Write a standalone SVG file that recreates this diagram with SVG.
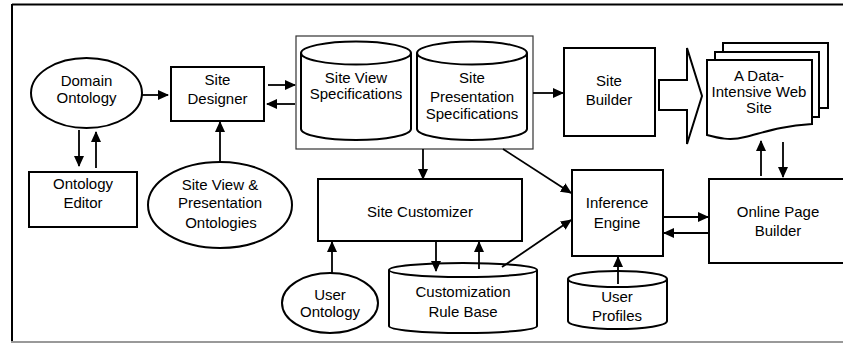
<svg xmlns="http://www.w3.org/2000/svg" width="843" height="343" viewBox="0 0 843 343">
<style>
.s{fill:#fff;stroke:#000;stroke-width:2}
.t{font-family:"Liberation Sans",Arial,sans-serif;font-size:15px;fill:#000;text-anchor:middle}
.c{fill:none;stroke:#000;stroke-width:1.8}
</style>
<defs>
<marker id="a" markerUnits="userSpaceOnUse" markerWidth="12" markerHeight="10" refX="10" refY="5" orient="auto">
<path d="M0,0 L11,5 L0,10 z" fill="#000"/>
</marker>
</defs>
<rect x="0" y="0" width="843" height="343" fill="#fff"/>
<line x1="12" y1="4.5" x2="843" y2="4.5" stroke="#000" stroke-width="2"/>
<line x1="12" y1="4" x2="12" y2="342" stroke="#000" stroke-width="2"/>
<line x1="11" y1="342" x2="843" y2="342" stroke="#999" stroke-width="2"/>

<g id="domain-ontology">
<ellipse class="s" cx="86.5" cy="93" rx="55.5" ry="35"/>
<text class="t" x="86.5" y="86">Domain</text>
<text class="t" x="86.5" y="103">Ontology</text>
</g>
<g id="ontology-editor">
<rect class="s" x="29" y="172" width="108" height="55"/>
<text class="t" x="83" y="189">Ontology</text>
<text class="t" x="83" y="208">Editor</text>
</g>
<g id="site-designer">
<rect class="s" x="171" y="67" width="93" height="54"/>
<text class="t" x="217.5" y="85">Site</text>
<text class="t" x="217.5" y="104">Designer</text>
</g>
<g id="sv-presentation-ontologies">
<ellipse class="s" cx="220" cy="205" rx="72" ry="43"/>
<text class="t" x="220" y="190">Site View &amp;</text>
<text class="t" x="220" y="208">Presentation</text>
<text class="t" x="221" y="228">Ontologies</text>
</g>
<g id="specifications">
<rect x="296" y="36" width="237" height="113" fill="#fff" stroke="#333" stroke-width="1.2"/>
<g id="site-view-specs">
<path class="s" d="M301,53 V129 A55,11 0 0 0 411,129 V53"/>
<ellipse class="s" cx="356" cy="53" rx="55" ry="11.5"/>
<text class="t" x="356" y="83">Site View</text>
<text class="t" x="356" y="99">Specifications</text>
</g>
<g id="site-presentation-specs">
<path class="s" d="M417,53 V129 A55,11 0 0 0 527,129 V53"/>
<ellipse class="s" cx="472" cy="53" rx="55" ry="11.5"/>
<text class="t" x="472" y="83">Site</text>
<text class="t" x="472" y="102">Presentation</text>
<text class="t" x="472" y="119">Specifications</text>
</g>
</g>
<g id="site-builder">
<rect class="s" x="564" y="48" width="91" height="88"/>
<text class="t" x="609" y="86">Site</text>
<text class="t" x="609" y="105">Builder</text>
</g>
<g id="big-arrow">
<path class="s" d="M659,80 H687 V48 L702,96 L687,144 V110 H659 Z" stroke-width="1.8"/>
</g>
<g id="web-site">
<rect class="s" x="723" y="43" width="105" height="65"/>
<rect class="s" x="715" y="52" width="104" height="65"/>
<path class="s" d="M707,60 H812 V124 C780,126 765,132 745,137 C730,141 718,138 707,135 Z"/>
<text class="t" x="759" y="81">A Data-</text>
<text class="t" x="759" y="97">Intensive Web</text>
<text class="t" x="759" y="113">Site</text>
</g>
<g id="site-customizer">
<rect class="s" x="318" y="179" width="204" height="62"/>
<text class="t" x="420" y="217">Site Customizer</text>
</g>
<g id="user-ontology">
<ellipse class="s" cx="330" cy="303" rx="48" ry="30"/>
<text class="t" x="330" y="300">User</text>
<text class="t" x="330" y="317">Ontology</text>
</g>
<g id="customization-rule-base">
<path class="s" d="M389,270 V326 A74,7 0 0 0 537,326 V270"/>
<ellipse class="s" cx="463" cy="270" rx="74" ry="7"/>
<text class="t" x="463" y="297">Customization</text>
<text class="t" x="463" y="317">Rule Base</text>
</g>
<g id="inference-engine">
<rect class="s" x="572" y="170" width="91" height="86"/>
<text class="t" x="617" y="208">Inference</text>
<text class="t" x="617" y="228">Engine</text>
</g>
<g id="user-profiles">
<path class="s" d="M568,279 V321 A49.5,8 0 0 0 667,321 V279"/>
<ellipse class="s" cx="617.5" cy="279" rx="49.5" ry="8"/>
<text class="t" x="617" y="302">User</text>
<text class="t" x="617" y="321">Profiles</text>
</g>
<g id="online-page-builder">
<rect class="s" x="709" y="179" width="150" height="84"/>
<text class="t" x="778" y="217">Online Page</text>
<text class="t" x="778" y="236">Builder</text>
</g>

<g id="connectors">
<line class="c" x1="142" y1="95" x2="168" y2="95" marker-end="url(#a)"/>
<line class="c" x1="79" y1="130" x2="79" y2="166" marker-end="url(#a)"/>
<line class="c" x1="96" y1="168" x2="96" y2="132" marker-end="url(#a)"/>
<line class="c" x1="268" y1="85" x2="295" y2="85" marker-end="url(#a)"/>
<line class="c" x1="295" y1="104" x2="267" y2="104" marker-end="url(#a)"/>
<line class="c" x1="220" y1="162" x2="220" y2="122" marker-end="url(#a)"/>
<line class="c" x1="533" y1="93" x2="563" y2="93" marker-end="url(#a)"/>
<line class="c" x1="423" y1="149" x2="423" y2="179" marker-end="url(#a)"/>
<line class="c" x1="503" y1="149" x2="571" y2="193" marker-end="url(#a)"/>
<line class="c" x1="436" y1="241" x2="436" y2="271" marker-end="url(#a)"/>
<line class="c" x1="479" y1="269" x2="479" y2="242" marker-end="url(#a)"/>
<line class="c" x1="502" y1="267" x2="571" y2="220" marker-end="url(#a)"/>
<line class="c" x1="332" y1="273" x2="332" y2="242" marker-end="url(#a)"/>
<line class="c" x1="618" y1="284" x2="618" y2="257" marker-end="url(#a)"/>
<line class="c" x1="663" y1="217" x2="708" y2="217" marker-end="url(#a)"/>
<line class="c" x1="709" y1="233" x2="664" y2="233" marker-end="url(#a)"/>
<line class="c" x1="761" y1="176" x2="761" y2="141" marker-end="url(#a)"/>
<line class="c" x1="783" y1="142" x2="783" y2="177" marker-end="url(#a)"/>
</g>
</svg>
